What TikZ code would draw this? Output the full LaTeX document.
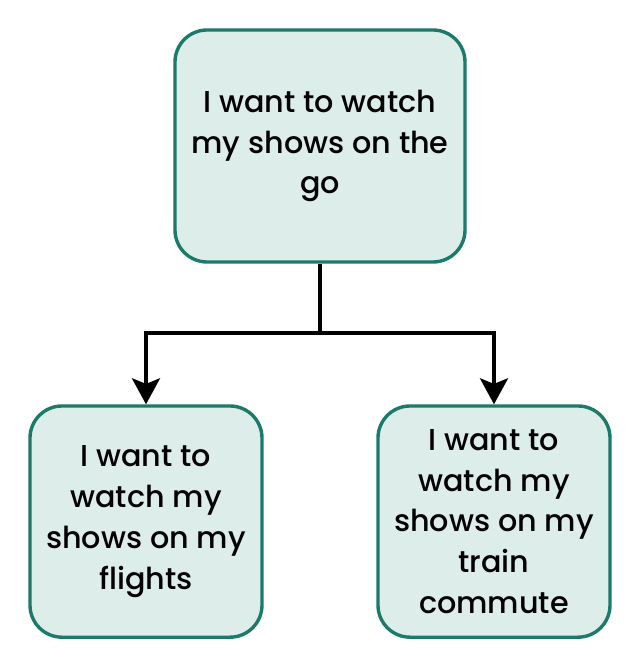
\documentclass[tikz,border=0pt]{standalone}
\usepackage{fontspec}
\setmainfont{Poppins}[UprightFont=* Medium]
\usetikzlibrary{arrows.meta,positioning}
\definecolor{boxfill}{HTML}{DDEDE9}
\definecolor{boxline}{HTML}{1B7A6A}
\begin{document}
\begin{tikzpicture}[>={Stealth[length=0.65cm,width=0.7cm,inset=0.14cm]},every node/.style={font=\fontsize{21.5}{29}\selectfont}]
  \tikzset{goal/.style={rectangle,rounded corners=0.8cm,draw=boxline,fill=boxfill,line width=2.4pt,align=center,inner sep=0pt}}
  \useasboundingbox (0,0) rectangle (16,16.7);
  \node[goal,minimum width=7.25cm,minimum height=5.8cm] (go) at (8,13.05) {I want to watch\\my shows on the\\go};
  \node[goal,minimum width=5.8cm,minimum height=5.78cm] (flights) at (3.65,3.66) {I want to\\watch my\\shows on my\\flights};
  \node[goal,minimum width=5.8cm,minimum height=5.78cm] (train) at (12.35,3.66) {I want to\\watch my\\shows on my\\train\\commute};
  \coordinate (split) at (8,8.375);
  \draw[line width=2.4pt] (go.south)--(split);
  \draw[->,line width=2.4pt] (split)-|(flights.north);
  \draw[->,line width=2.4pt] (split)-|(train.north);
\end{tikzpicture}
\end{document}
